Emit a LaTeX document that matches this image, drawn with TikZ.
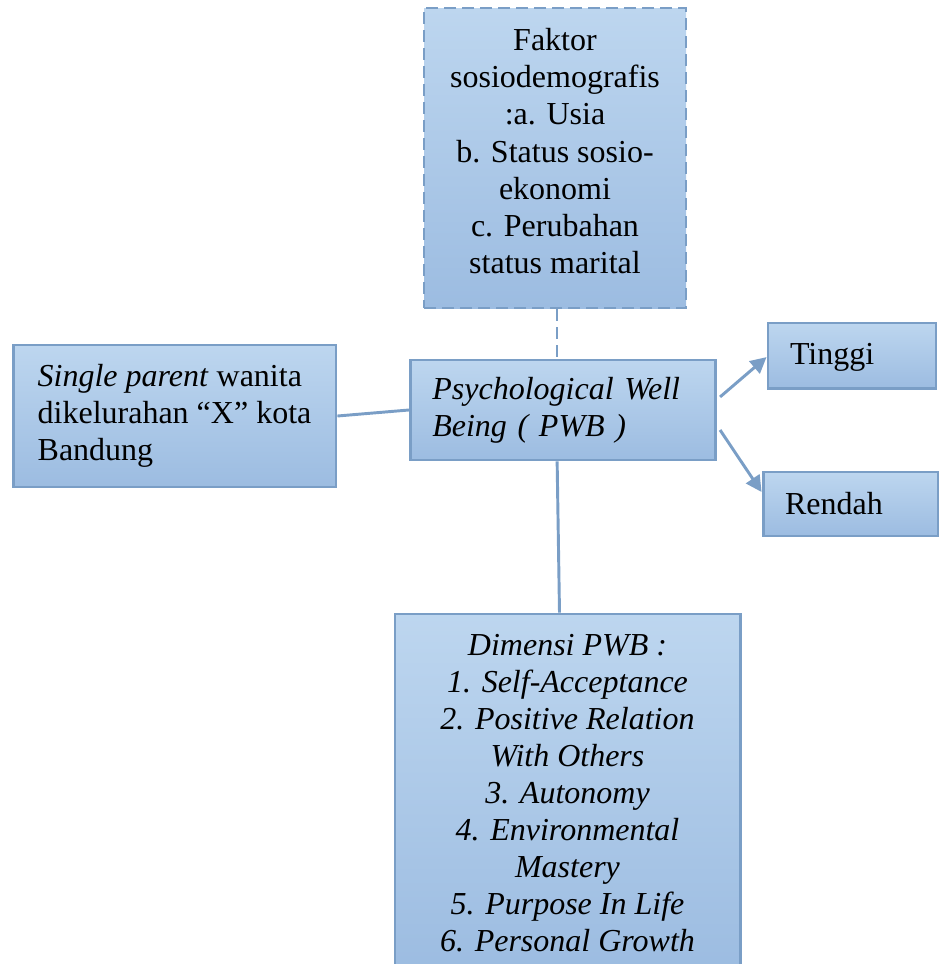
\documentclass[tikz,border=0pt]{standalone}
\usepackage{fontspec}
\setmainfont{Liberation Serif}
\usepackage{tikz}
\usetikzlibrary{arrows.meta,positioning,calc}
\definecolor{boxtop}{HTML}{BDD6EF}
\definecolor{boxbot}{HTML}{9CBCE1}
\definecolor{boxline}{HTML}{7A9EC6}
\tikzset{
  >={Triangle[length=6pt,width=6pt]},
  box/.style={draw=boxline, line width=1.1pt, top color=boxtop, bottom color=boxbot,
    inner xsep=8.25pt, inner ysep=0pt, font=\fontsize{12}{13.9}\selectfont},
  mid/.style={box, align=center},
  side/.style={box, align=left},
  link/.style={draw=boxline, line width=1.1pt},
}

\begin{document}
\begin{tikzpicture}[x=0.375pt, y=-0.375pt]
  \useasboundingbox (0,0) rectangle (939,964);

  \node[mid, dashed, dash pattern=on 4.5pt off 2.25pt, text depth=5.3pt,
        minimum width=98.25pt, minimum height=112.5pt] (faktor) at (555,158)
    {Faktor\\sosiodemografis\\:a. Usia\\b. Status sosio-\\ekonomi\\c. Perubahan\\status marital};

  \node[side, text width=98pt, minimum height=37.5pt] (pwb) at (563,410)
    {\itshape Psychological Well\\\itshape Being ( PWB )};

  \node[side, minimum width=121.1pt, minimum height=53.25pt] (subjek) at (174.5,416)
    {\textit{Single parent} wanita\\dikelurahan “X” kota\\Bandung};

  \node[side, text width=46.5pt, minimum height=24.4pt, text depth=1.5pt] (tinggi) at (852,355.5) {Tinggi};
  \node[side, text width=49.1pt, minimum height=24pt] (rendah) at (850.5,504) {Rendah};

  \node[mid, minimum width=129.4pt, minimum height=134.25pt] (dimensi) at (567.5,793)
    {\itshape Dimensi PWB :\\\itshape 1. Self-Acceptance\\\itshape 2. Positive Relation\\\itshape With Others\\
     \itshape 3. Autonomy\\\itshape 4. Environmental\\\itshape Mastery\\\itshape 5. Purpose In Life\\
     \itshape 6. Personal Growth};

  % connectors
  \draw[link, dashed, dash pattern=on 4.5pt off 2.25pt] ([xshift=0.75pt]faktor.south) -- ([xshift=0.75pt]faktor.south |- pwb.north);
  \draw[link] (subjek.east) -- (pwb.west);
  \draw[link, ->] ([xshift=1.1pt, yshift=4.9pt]pwb.east) -- ([yshift=-0.6pt]tinggi.west);
  \draw[link, ->] ([xshift=1.1pt, yshift=-7.5pt]pwb.east) -- ([yshift=4.5pt]rendah.west);
  \draw[link] ([xshift=-2.2pt]pwb.south) -- ([xshift=-3pt]dimensi.north);
\end{tikzpicture}
\end{document}
